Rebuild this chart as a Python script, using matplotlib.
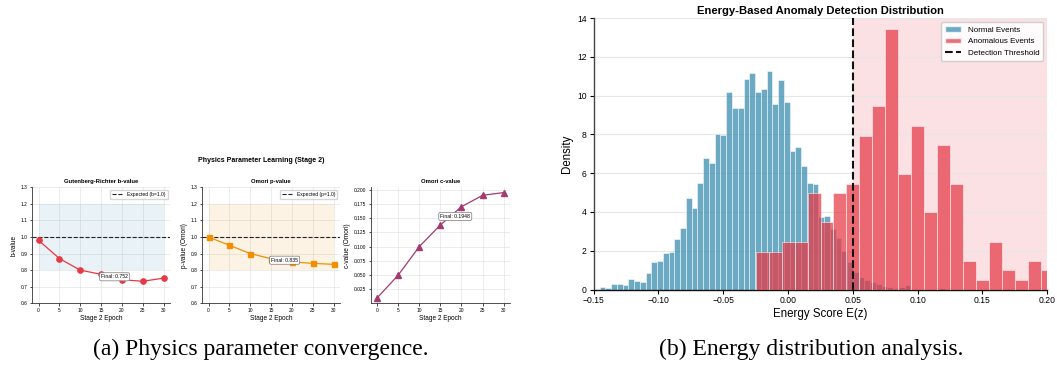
import matplotlib
matplotlib.use('Agg')
import matplotlib.pyplot as plt
from matplotlib.patches import Patch
from matplotlib.lines import Line2D
import numpy as np

plt.rcParams['font.family'] = ['Liberation Sans', 'DejaVu Sans']

# ---------------- data ----------------
epochs = [0, 5, 10, 15, 20, 25, 30]
b_values = [0.98, 0.87, 0.80, 0.775, 0.742, 0.733, 0.752]
p_values = [1.0, 0.95, 0.90, 0.869, 0.85, 0.841, 0.835]
c_values = [0.01, 0.05, 0.10, 0.138, 0.17, 0.190, 0.1948]
b_final_label = "Final: 0.752"
p_final_label = "Final: 0.835"
c_final_label = "Final: 0.1948"

normal_start = -0.1453
normal_width = 0.00444
normal_density = [0.12, 0.07, 0.29, 0.29, 0.21, 0.52, 0.43, 0.40, 0.85, 1.40,
                  1.47, 1.88, 1.92, 2.59, 3.18, 4.73, 4.18, 5.49, 6.79, 6.51,
                  8.03, 7.98, 10.16, 9.34, 9.34, 10.85, 11.17, 10.16, 10.35, 11.27,
                  9.58, 10.80, 9.67, 7.14, 7.36, 6.36, 5.49, 5.44, 3.73, 3.81,
                  3.13, 2.66, 1.96, 1.44, 0.91, 0.64, 0.50, 0.41, 0.28, 0.17,
                  0.12, 0.10, 0.12, 0.21, 0.0, 0.0, 0.0, 0.0, 0.0, 0.07]
anom_start = -0.0248
anom_width = 0.00998
anom_density = [1.94, 1.94, 2.46, 2.46, 4.96, 3.47, 4.98, 5.46, 7.94, 9.45,
                13.41, 5.97, 8.44, 3.99, 7.45, 5.46, 1.48, 0.48, 2.47, 0.98,
                0.48, 1.48, 0.98]
threshold = 0.05

BLUE = '#2E86AB'
RED = '#E63946'
ORANGE = '#F18F01'
PURPLE = '#A23B72'

W, H = 1057, 368
fig = plt.figure(figsize=(W / 100, H / 100), dpi=100)


def ax_px(left, top, right, bottom):
    return fig.add_axes([left / W, 1 - bottom / H, (right - left) / W, (bottom - top) / H])


def style_small(ax):
    for s in ['top', 'right']:
        ax.spines[s].set_visible(False)
    for s in ['left', 'bottom']:
        ax.spines[s].set_linewidth(0.6)
        ax.spines[s].set_color('#333333')
    ax.grid(True, color='#dddddd', linewidth=0.4)
    ax.set_axisbelow(True)
    ax.tick_params(labelsize=3.5, length=1.8, width=0.5, pad=1.5)
    ax.set_xlim(-1.5, 31.5)
    ax.set_xticks(epochs)
    ax.set_xlabel('Stage 2 Epoch', fontsize=4.7, labelpad=1.5)


box = dict(boxstyle='round,pad=0.3', fc='white', ec='#777777', lw=0.5)

# panel 1
ax1 = ax_px(32.3, 187.3, 170, 303.3)
ax1.fill_between(epochs, 0.8, 1.2, color=BLUE, alpha=0.1, lw=0)
ax1.axhline(1.0, color='#222222', ls='--', lw=0.8, label='Expected (b=1.0)')
ax1.plot(epochs, b_values, color=RED, marker='o', ms=3.8, lw=0.9)
ax1.set_ylim(0.6, 1.3)
ax1.set_yticks(np.arange(0.6, 1.31, 0.1))
ax1.set_title('Gutenberg-Richter b-value', fontsize=4.2, fontweight='bold', pad=3)
ax1.set_ylabel('b-value', fontsize=4.7, labelpad=2)
ax1.text(15.0, 0.76, b_final_label, fontsize=3.7, va='center', bbox=box)
ax1.legend(loc='upper right', fontsize=3.6, handlelength=2.2, borderpad=0.4)
style_small(ax1)

# panel 2
ax2 = ax_px(202.3, 187.3, 340, 303.3)
ax2.fill_between(epochs, 0.8, 1.2, color=ORANGE, alpha=0.1, lw=0)
ax2.axhline(1.0, color='#222222', ls='--', lw=0.8, label='Expected (p=1.0)')
ax2.plot(epochs, p_values, color=ORANGE, marker='s', ms=3.6, lw=0.9)
ax2.set_ylim(0.6, 1.3)
ax2.set_yticks(np.arange(0.6, 1.31, 0.1))
ax2.set_title('Omori p-value', fontsize=4.2, fontweight='bold', pad=3)
ax2.set_ylabel('p-value (Omori)', fontsize=4.7, labelpad=2)
ax2.text(15.0, 0.86, p_final_label, fontsize=3.7, va='center', bbox=box)
ax2.legend(loc='upper right', fontsize=3.6, handlelength=2.2, borderpad=0.4)
style_small(ax2)

# panel 3
ax3 = ax_px(370.7, 187.3, 510, 303.3)
ax3.plot(epochs, c_values, color=PURPLE, marker='^', ms=3.8, lw=0.9)
ax3.set_yticks(np.arange(0.025, 0.201, 0.025))
ax3.set_title('Omori c-value', fontsize=4.2, fontweight='bold', pad=3)
ax3.set_ylabel('c-value (Omori)', fontsize=4.7, labelpad=2)
ax3.text(15.0, 0.153, c_final_label, fontsize=3.7, va='center', bbox=box)
style_small(ax3)
ax3.yaxis.set_major_formatter(matplotlib.ticker.FormatStrFormatter('%.3f'))

fig.text(261 / W, 1 - 160.7 / H, 'Physics Parameter Learning (Stage 2)',
         fontsize=5.0, fontweight='bold', ha='center', va='center')

# ---------------- right panel ----------------
axr = ax_px(593.5, 18, 1047.3, 289.5)
n_edges = normal_start + normal_width * np.arange(len(normal_density))
a_edges = anom_start + anom_width * np.arange(len(anom_density))
axr.axvspan(threshold, 0.2, color=RED, alpha=0.15, lw=0, zorder=0)
axr.bar(n_edges, normal_density, width=normal_width, align='edge', color=BLUE,
        alpha=0.7, edgecolor='white', linewidth=0.5, zorder=2)
axr.bar(a_edges, anom_density, width=anom_width, align='edge', color=RED,
        alpha=0.72, edgecolor='white', linewidth=0.5, zorder=3)
axr.axvline(threshold, color='#111111', ls='--', lw=1.5, zorder=4)
axr.set_xlim(-0.15, 0.20)
axr.set_ylim(0, 14)
axr.set_yticks(np.arange(0, 15, 2))
axr.set_xticks(np.arange(-0.15, 0.201, 0.05))
axr.xaxis.set_major_formatter(matplotlib.ticker.FuncFormatter(
    lambda v, p: ('\u2212' if v < -1e-9 else '') + '%.2f' % abs(v)))
axr.grid(axis='y', color='#e6e6e6', linewidth=0.8, zorder=1)
axr.set_axisbelow(True)
for s in ['top', 'right']:
    axr.spines[s].set_visible(False)
axr.spines['left'].set_color('#444444')
axr.spines['left'].set_linewidth(1.0)
axr.spines['bottom'].set_color('#111111')
axr.spines['bottom'].set_linewidth(1.0)
axr.tick_params(labelsize=6.2, length=3, width=0.8, pad=2)
axr.set_xlabel('Energy Score E(z)', fontsize=8.3, labelpad=2)
axr.set_ylabel('Density', fontsize=8.3, labelpad=3)
axr.set_title('Energy-Based Anomaly Detection Distribution', fontsize=8.1,
              fontweight='bold', pad=3)
handles = [Patch(facecolor=BLUE, alpha=0.7, edgecolor='white'),
           Patch(facecolor=RED, alpha=0.72, edgecolor='white'),
           Line2D([0], [0], color='#111111', ls='--', lw=1.5)]
axr.legend(handles, ['Normal Events', 'Anomalous Events', 'Detection Threshold'],
           loc='upper right', fontsize=5.8, framealpha=0.9, borderpad=0.5)

# ---------------- captions ----------------
fig.text(261 / W, 1 - 349 / H, '(a) Physics parameter convergence.',
         family=['Liberation Serif', 'DejaVu Serif'], fontsize=17, ha='center', va='center')
fig.text(811 / W, 1 - 349 / H, '(b) Energy distribution analysis.',
         family=['Liberation Serif', 'DejaVu Serif'], fontsize=17, ha='center', va='center')

fig.savefig('out.png', dpi=100)
